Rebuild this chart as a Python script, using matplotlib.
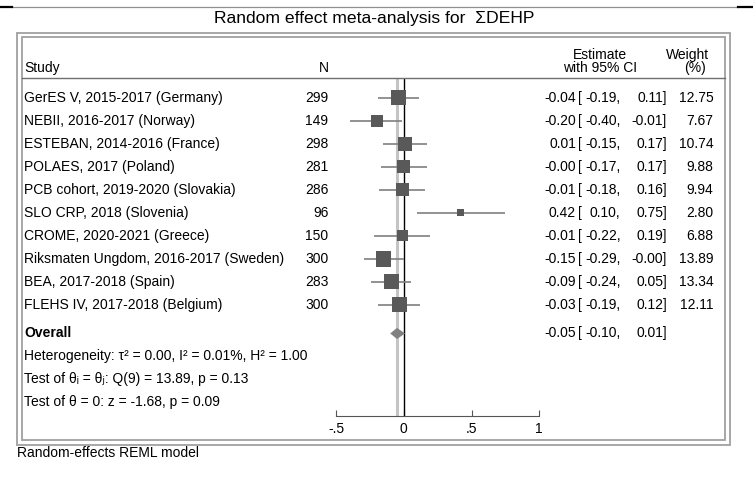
import numpy as np
import matplotlib
matplotlib.use('Agg')
import matplotlib.pyplot as plt
import matplotlib.transforms as mtransforms
from matplotlib.patches import Rectangle, Polygon
from matplotlib.lines import Line2D

plt.rcParams['font.family'] = ['Liberation Sans', 'DejaVu Sans']

# data
studies = ['GerES V, 2015-2017 (Germany)', 'NEBII, 2016-2017 (Norway)',
           'ESTEBAN, 2014-2016 (France)', 'POLAES, 2017 (Poland)',
           'PCB cohort, 2019-2020 (Slovakia)', 'SLO CRP, 2018 (Slovenia)',
           'CROME, 2020-2021 (Greece)', 'Riksmaten Ungdom, 2016-2017 (Sweden)',
           'BEA, 2017-2018 (Spain)', 'FLEHS IV, 2017-2018 (Belgium)']
n_obs = [299, 149, 298, 281, 286, 96, 150, 300, 283, 300]
estimate = [-0.04, -0.20, 0.01, -0.00, -0.01, 0.42, -0.01, -0.15, -0.09, -0.03]
ci_low = [-0.19, -0.40, -0.15, -0.17, -0.18, 0.10, -0.22, -0.29, -0.24, -0.19]
ci_high = [0.11, -0.01, 0.17, 0.17, 0.16, 0.75, 0.19, -0.00, 0.05, 0.12]
weight = [12.75, 7.67, 10.74, 9.88, 9.94, 2.80, 6.88, 13.89, 13.34, 12.11]
overall_est, overall_low, overall_high = -0.05, -0.10, 0.01
stats_lines = ['Heterogeneity: τ² = 0.00, I² = 0.01%, H² = 1.00',
               'Test of θᵢ = θⱼ: Q(9) = 13.89, p = 0.13',
               'Test of θ = 0: z = -1.68, p = 0.09']
xticks = [-0.5, 0, 0.5, 1]
xtick_labels = ['-.5', '0', '.5', '1']

W, H = 753, 479
fig = plt.figure(figsize=(W / 100, H / 100), dpi=100)

def fx(px):
    return px / W

def fy(py):
    return 1 - py / H

# forest axes: x in effect units, y in rows (0 = first study)
row0, row_h = 97.7, 23.0
top_px, axis_px = 77.7, 416.0
ax = fig.add_axes([fx(336), fy(axis_px), fx(539.3) - fx(336), (axis_px - top_px) / H])
ax.set_xlim(-0.5, 1)
ax.set_ylim((axis_px - row0) / row_h, (top_px - row0) / row_h)
ax.patch.set_alpha(0)
for s in ['top', 'left', 'right']:
    ax.spines[s].set_visible(False)
ax.spines['bottom'].set_color('#555555')
ax.set_yticks([])
ax.set_xticks(xticks)
ax.set_xticklabels(xtick_labels)
ax.tick_params(axis='x', direction='in', length=4, color='#555555', labelsize=10, pad=4)

rows = np.arange(len(studies))
overall_row = len(studies) + 0.25

ax.axvline(overall_est, color='#c4c4c4', lw=2.2, zorder=1)
ax.axvline(0, color='black', lw=1, zorder=2)
ax.hlines(rows, ci_low, ci_high, color='#7f7f7f', lw=1.2, zorder=3)
side = 3.05 * np.sqrt(weight)
ax.scatter(estimate, rows, s=side ** 2, marker='s', color='#595959', linewidths=0, zorder=4)
dh = 0.24
ax.add_patch(Polygon([(overall_low, overall_row), (overall_est, overall_row - dh),
                      (overall_high, overall_row), (overall_est, overall_row + dh)],
                     closed=True, color='#808080', lw=0, zorder=4))

# table text: x in figure pixels, y in rows
tr = mtransforms.blended_transform_factory(fig.transFigure, ax.transData)
fs = 10

def txt(px, row, s, ha='left', **kw):
    ax.text(fx(px), row, s, transform=tr, ha=ha, va='center', fontsize=fs, clip_on=False, **kw)

def hdr(px, py, s, ha='left'):
    fig.text(fx(px), fy(py), s, ha=ha, va='center', fontsize=fs)

hdr(24.5, 68.3, 'Study')
hdr(328.5, 68.3, 'N', ha='right')
hdr(600, 55, 'Estimate', ha='center')
hdr(600, 68.3, 'with 95% CI', ha='center')
hdr(688, 55, 'Weight', ha='center')
hdr(695, 68.3, '(%)', ha='center')

for i in rows:
    txt(24.5, i, studies[i])
    txt(328.5, i, f'{n_obs[i]}', ha='right')
    txt(576, i, f'{estimate[i]:.2f}', ha='right')
    txt(578, i, '[')
    txt(620.5, i, f'{ci_low[i]:.2f},', ha='right')
    txt(667, i, f'{ci_high[i]:.2f}]', ha='right')
    txt(713.5, i, f'{weight[i]:.2f}', ha='right')

txt(24.5, overall_row, 'Overall', fontweight='bold')
txt(576, overall_row, f'{overall_est:.2f}', ha='right')
txt(578, overall_row, '[')
txt(620.5, overall_row, f'{overall_low:.2f},', ha='right')
txt(667, overall_row, f'{overall_high:.2f}]', ha='right')
for k, line in enumerate(stats_lines):
    txt(24.5, overall_row + 1 + k, line)

# frames and rules
for (x0, y0, x1, y1) in [(17, 33, 730, 445), (22, 37, 725, 440)]:
    fig.add_artist(Rectangle((fx(x0), fy(y1)), fx(x1) - fx(x0), (y1 - y0) / H,
                             transform=fig.transFigure, fill=False, ec='#a0a0a0', lw=1.3))
fig.add_artist(Line2D([fx(22), fx(725)], [fy(top_px), fy(top_px)], color='#707070', lw=1))
fig.add_artist(Line2D([fx(12), fx(738)], [fy(7.3), fy(7.3)], color='#909090', lw=0.9))
fig.add_artist(Line2D([0, fx(12)], [fy(6.5), fy(6.5)], color='black', lw=1.6))
fig.add_artist(Line2D([fx(738), 1], [fy(6.5), fy(6.5)], color='black', lw=1.6))

fig.text(fx(374.5), fy(18), 'Random effect meta-analysis for  ΣDEHP', ha='center', va='center', fontsize=12.6)
fig.text(fx(17.3), fy(453), 'Random-effects REML model', ha='left', va='center', fontsize=10)

fig.savefig('out.png', dpi=100)
